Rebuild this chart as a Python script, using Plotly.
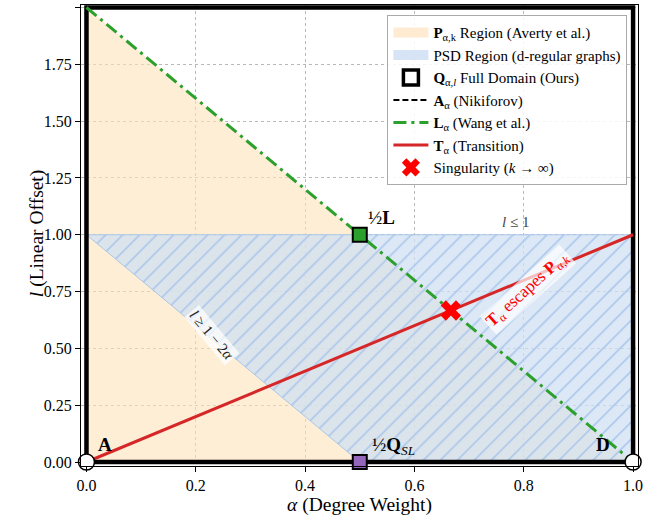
import plotly.graph_objects as go

# ---------------- data ----------------
alpha_ticks = [0.0, 0.2, 0.4, 0.6, 0.8, 1.0]
l_ticks = [0.0, 0.25, 0.5, 0.75, 1.0, 1.25, 1.5, 1.75, 2.0]

p_region_alpha = [0, 0, 1, 0]
p_region_l = [0, 2, 0, 0]

psd_alpha = [0, 1, 1, 0.5, 0]
psd_l = [1, 1, 0, 0, 1]

q_alpha = [0, 1, 1, 0, 0]
q_l = [0, 0, 2, 2, 0]

a_alpha = [0, 1]
a_l = [0, 0]

l_line_alpha = [0, 1]
l_line_l = [2, 0]

t_alpha = [0, 1]
t_l = [0, 1]

sing_alpha = [2 / 3]
sing_l = [2 / 3]

vertex_alpha = [0, 1]
vertex_l = [0, 0]

half_L_alpha = [0.5]
half_L_l = [1.0]

half_QSL_alpha = [0.5]
half_QSL_l = [0.0]

FONT = "'Liberation Serif', 'Times New Roman', serif"

ORANGE = "rgba(253,226,185,0.6)"
BLUE = "rgba(208,224,243,0.75)"
BLUE_EDGE = "rgba(170,198,235,1)"

fig = go.Figure()

# --- regions (drawn) ---
fig.add_trace(go.Scatter(
    x=p_region_alpha, y=p_region_l, mode="lines", fill="toself",
    fillcolor=ORANGE, line=dict(width=0, color=ORANGE),
    showlegend=False, hoverinfo="skip"))

fig.add_trace(go.Scatter(
    x=psd_alpha, y=psd_l, mode="lines", fill="toself",
    fillcolor=BLUE,
    fillpattern=dict(shape="/", fgcolor="rgba(165,195,235,1)", bgcolor=BLUE,
                     size=12, solidity=0.12, fillmode="replace"),
    line=dict(width=1, color=BLUE_EDGE),
    showlegend=False, hoverinfo="skip"))

fig.add_trace(go.Scatter(
    x=q_alpha, y=q_l, mode="lines",
    line=dict(width=4.5, color="black"),
    showlegend=False, hoverinfo="skip"))

# --- legend-only entries for the regions ---
fig.add_trace(go.Scatter(
    x=[None], y=[None], mode="lines", line=dict(width=10, color="rgba(254,235,210,1)"),
    name="<b>P</b><sub>α,k</sub> Region (Averty et al.)", legendrank=1))
fig.add_trace(go.Scatter(
    x=[None], y=[None], mode="lines", line=dict(width=10, color="rgba(214,228,245,1)"),
    name="PSD Region (d-regular graphs)", legendrank=2))
fig.add_trace(go.Scatter(
    x=[None], y=[None], mode="markers",
    marker=dict(symbol="square", size=15, color="white", line=dict(width=3.5, color="black")),
    name="<b>Q</b><sub>α,<i>l</i></sub> Full Domain (Ours)", legendrank=3))

# --- lines ---
fig.add_trace(go.Scatter(
    x=a_alpha, y=a_l, mode="lines",
    line=dict(width=2, color="black", dash="6px,3px"),
    name="<b>A</b><sub>α</sub> (Nikiforov)", legendrank=4))

fig.add_trace(go.Scatter(
    x=l_line_alpha, y=l_line_l, mode="lines",
    line=dict(width=3, color="#2ca02c", dash="13px,5px,3px,5px"),
    name="<b>L</b><sub>α</sub> (Wang et al.)", legendrank=5))

fig.add_trace(go.Scatter(
    x=t_alpha, y=t_l, mode="lines",
    line=dict(width=3, color="#d62728"),
    name="<b>T</b><sub>α</sub> (Transition)", legendrank=6))

fig.add_trace(go.Scatter(
    x=sing_alpha, y=sing_l, mode="markers",
    marker=dict(symbol="x", size=18, color="red", line=dict(width=0)),
    name="Singularity (<i>k</i> → ∞)", legendrank=7))

# --- special points ---
fig.add_trace(go.Scatter(
    x=vertex_alpha, y=vertex_l, mode="markers",
    marker=dict(symbol="circle", size=16, color="white", line=dict(width=1.5, color="black")),
    showlegend=False, cliponaxis=False))

fig.add_trace(go.Scatter(
    x=half_L_alpha, y=half_L_l, mode="markers",
    marker=dict(symbol="square", size=14, color="#2ca02c", line=dict(width=2, color="black")),
    showlegend=False, cliponaxis=False))

fig.add_trace(go.Scatter(
    x=half_QSL_alpha, y=half_QSL_l, mode="markers",
    marker=dict(symbol="square", size=14, color="#9467bd", line=dict(width=2, color="black")),
    showlegend=False, cliponaxis=False))

annotations = [
    dict(x=0.034, y=0.079, text="<b>A</b>", font=dict(size=19, color="black", family=FONT)),
    dict(x=0.945, y=0.079, text="<b>D</b>", font=dict(size=19, color="black", family=FONT)),
    dict(x=0.54, y=1.075, text="½<b>L</b>", font=dict(size=19, color="black", family=FONT)),
    dict(x=0.562, y=0.072, text="½<b>Q</b><sub><i>SL</i></sub>", font=dict(size=19, color="black", family=FONT)),
    dict(x=0.785, y=1.055, text="<i>l</i> ≤ 1", font=dict(size=15, color="#444444", family=FONT)),
    dict(x=0.229, y=0.559, text="<i>l</i> ≥ 1 − 2<i>α</i>", textangle=50,
         bgcolor="rgba(255,255,255,0.7)", font=dict(size=15, color="#222222", family=FONT)),
    dict(x=0.807, y=0.757, text="<b>T</b><sub>α</sub> escapes <b>P</b><sub>α,<i>k</i></sub>", textangle=-42,
         bgcolor="rgba(255,255,255,0.7)", font=dict(size=17, color="red", family=FONT)),
]
for a in annotations:
    a.update(xref="x", yref="y", showarrow=False)

# y-axis title as a paper-anchored annotation for precise placement
annotations.append(dict(
    xref="paper", yref="paper", x=-0.1023, y=0.503, showarrow=False, textangle=-90,
    text="<i>l</i> (Linear Offset)", font=dict(size=19.5, color="black", family=FONT)))

fig.update_layout(
    width=668, height=524,
    margin=dict(l=81, r=30, t=5, b=58),
    paper_bgcolor="white", plot_bgcolor="white",
    font=dict(family=FONT, size=16, color="black"),
    showlegend=True,
    legend=dict(x=0.981, y=0.978, xanchor="right", yanchor="top",
                bgcolor="rgba(255,255,255,0.85)", bordercolor="#aaaaaa", borderwidth=1,
                font=dict(size=15, family=FONT), tracegroupgap=0,
                itemwidth=35),
    annotations=annotations,
    xaxis=dict(range=[-0.01, 1.009], tickvals=alpha_ticks, tickformat=".1f",
               showgrid=True, gridcolor="#b8b8b8", griddash="dot", gridwidth=1,
               zeroline=False, showline=True, mirror=True, linecolor="black", linewidth=1,
               ticks="outside", ticklen=5, tickcolor="black",
               tickfont=dict(size=16, family=FONT),
               title=dict(text="<i>α</i> (Degree Weight)", font=dict(size=19.5, family=FONT), standoff=0)),
    yaxis=dict(range=[-0.0176, 2.011], tickvals=l_ticks, tickformat=".2f",
               showgrid=True, gridcolor="#b8b8b8", griddash="dot", gridwidth=1,
               zeroline=False, showline=True, mirror=True, linecolor="black", linewidth=1,
               ticks="outside", ticklen=5, tickcolor="black",
               tickfont=dict(size=16, family=FONT)),
)

fig.write_html("out.html")
